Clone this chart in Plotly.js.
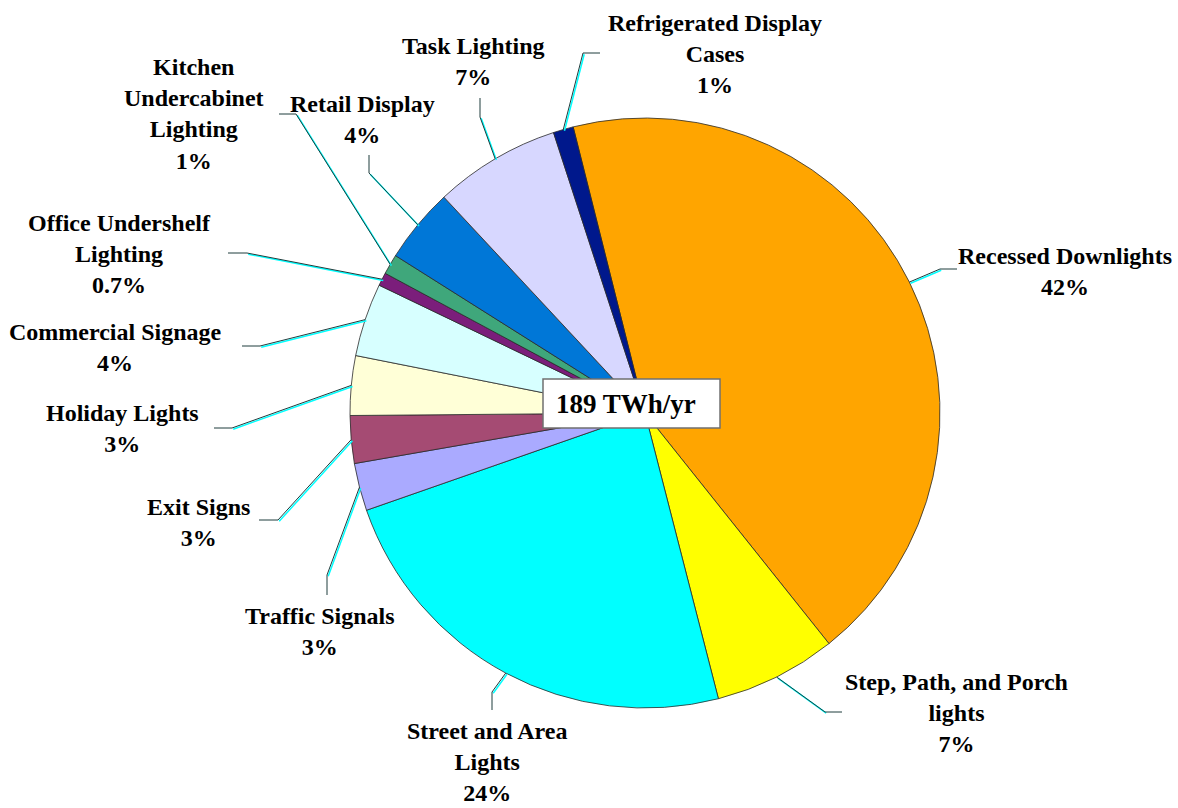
<!DOCTYPE html>
<html>
<head>
<meta charset="utf-8">
<script src="https://cdn.plot.ly/plotly-3.0.1.min.js"></script>
<style>
  html, body { margin: 0; padding: 0; background: #ffffff; }
  #chart { width: 1178px; height: 808px; }
</style>
</head>
<body>
<div id="chart"></div>
<script>
// ---- data ----
const categories = [
  "Recessed Downlights", "Step, Path, and Porch lights", "Street and Area Lights",
  "Traffic Signals", "Exit Signs", "Holiday Lights", "Commercial Signage",
  "Office Undershelf Lighting", "Kitchen Undercabinet Lighting", "Retail Display",
  "Task Lighting", "Refrigerated Display Cases"
];
const sharePct = [43.1, 6.7, 23.6, 2.6, 2.6, 3.25, 4.0, 0.72, 1.1, 4.1, 6.9, 1.1];
const pctLabels = ["42%", "7%", "24%", "3%", "3%", "3%", "4%", "0.7%", "1%", "4%", "7%", "1%"];
const displayNames = [
  "Recessed Downlights", "Step, Path, and Porch<br>lights", "Street and Area<br>Lights",
  "Traffic Signals", "Exit Signs", "Holiday Lights", "Commercial Signage",
  "Office Undershelf<br>Lighting", "Kitchen<br>Undercabinet<br>Lighting", "Retail Display",
  "Task Lighting", "Refrigerated Display<br>Cases"
];
const totalLabel = "189 TWh/yr";

// ---- styling / layout ----
const colors = ["#FFA500", "#FFFF00", "#00FFFF", "#AAAAFF", "#A54B73", "#FFFFD7",
                "#D7FFFF", "#7B1E7B", "#3FA77B", "#0077D7", "#D7D7FF", "#00188C"];
const W = 1178, H = 808;
const cx = 645, cy = 413, R = 295;
const rotation = -14.1;
const labelCenters = [[1065,271],[956,713],[487,762],[320,631],[198,522],[122,428],
                      [115,348],[119,254],[194,114],[362,119],[473,62],[715,54]];
const knees = [[940,269],[825,712],[492,692],[327,575],[278,520],[232,428],
               [260,346],[247,253],[296,114],[369,173],[480,117],[583,53]];
const ends = [[957,269],[842,712],[492,710],[327,595],[259,520],[214,428],
              [242,346],[228,253],[279,114],[369,155],[480,98],[600,53]];

const px = x => x / W;
const py = y => 1 - y / H;

const total = sharePct.reduce((a, b) => a + b, 0);
const shapes = [];
const annotations = [];
let cum = 0;
sharePct.forEach((v, i) => {
  const midDeg = rotation + 360 * (cum + v / 2) / total;
  cum += v;
  const a = midDeg * Math.PI / 180;
  const ex = cx + R * Math.sin(a), ey = cy - R * Math.cos(a);
  const k = knees[i], e = ends[i];
  // cyan highlight line, slightly offset
  shapes.push({
    type: "path", xref: "paper", yref: "paper", layer: "above",
    path: `M ${px(ex+1.2)},${py(ey+1.2)} L ${px(k[0]+1.2)},${py(k[1]+1.2)}`,
    line: { color: "#00FFFF", width: 1.5 }
  });
  shapes.push({
    type: "path", xref: "paper", yref: "paper", layer: "above",
    path: `M ${px(ex)},${py(ey)} L ${px(k[0])},${py(k[1])} L ${px(e[0])},${py(e[1])}`,
    line: { color: "#1E3C3C", width: 1 }
  });
  annotations.push({
    xref: "paper", yref: "paper",
    x: px(labelCenters[i][0]), y: py(labelCenters[i][1]),
    xanchor: "center", yanchor: "middle", align: "center", showarrow: false,
    text: "<b>" + displayNames[i] + "<br>" + pctLabels[i] + "</b>",
    font: { family: "Liberation Serif, Times New Roman, serif", size: 24, color: "#000000" }
  });
});

// centre total box
shapes.push({
  type: "rect", xref: "paper", yref: "paper", layer: "above",
  x0: px(543), x1: px(720), y0: py(428), y1: py(379),
  fillcolor: "#FFFFFF", line: { color: "#707070", width: 1.5 }
});
annotations.push({
  xref: "paper", yref: "paper", x: px(626), y: py(404),
  xanchor: "center", yanchor: "middle", showarrow: false,
  text: "<b>" + totalLabel + "</b>",
  font: { family: "Liberation Serif, Times New Roman, serif", size: 27, color: "#000000" }
});

const trace = {
  type: "pie",
  labels: categories,
  values: sharePct,
  sort: false,
  direction: "clockwise",
  rotation: rotation,
  textinfo: "none",
  hoverinfo: "label+percent",
  marker: { colors: colors, line: { color: "#2a2a2a", width: 0.8 } },
  domain: { x: [px(cx - R), px(cx + R)], y: [py(cy + R), py(cy - R)] },
  showlegend: false
};

const layout = {
  width: W, height: H,
  margin: { l: 0, r: 0, t: 0, b: 0 },
  paper_bgcolor: "#FFFFFF",
  plot_bgcolor: "#FFFFFF",
  showlegend: false,
  shapes: shapes,
  annotations: annotations
};

Plotly.newPlot("chart", [trace], layout, { displayModeBar: false, staticPlot: true });
</script>
</body>
</html>
